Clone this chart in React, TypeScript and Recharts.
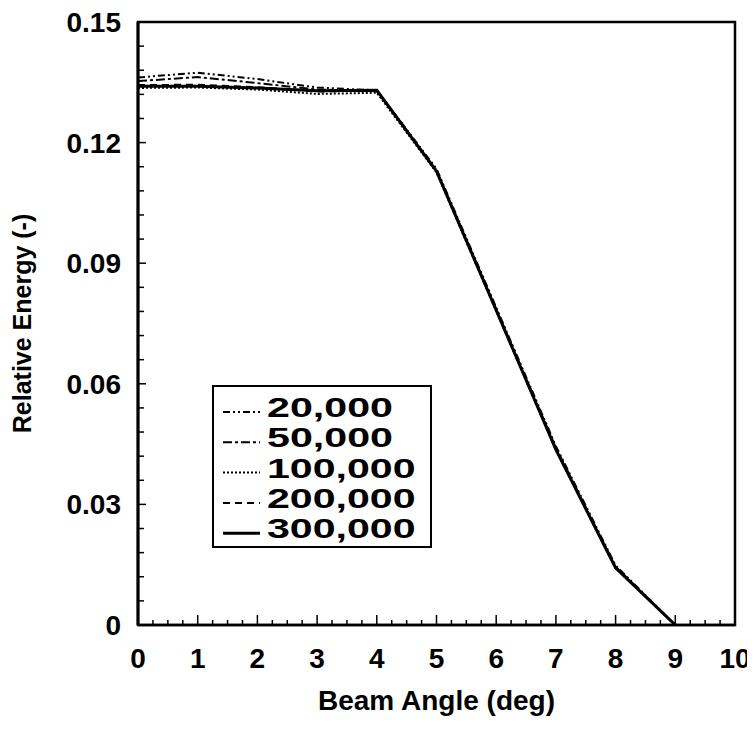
import React from "react";
import { LineChart, Line, XAxis, YAxis, ReferenceArea, Legend, Label } from "recharts";

const angles = [0, 1, 2, 3, 4, 5, 6, 7, 8, 9];
const s20k = [0.1362, 0.1374, 0.1358, 0.1337, 0.133, 0.1135, 0.079, 0.0445, 0.0148, 0];
const s50k = [0.1353, 0.1363, 0.1348, 0.1332, 0.1328, 0.113, 0.0786, 0.0441, 0.0145, 0];
const s100k = [0.1336, 0.1337, 0.1332, 0.1321, 0.1324, 0.1126, 0.0781, 0.0436, 0.0141, 0];
const s200k = [0.1343, 0.1344, 0.1338, 0.1327, 0.133, 0.113, 0.0784, 0.0437, 0.0143, 0];
const s300k = [0.134, 0.134, 0.1336, 0.1329, 0.133, 0.1129, 0.0783, 0.0436, 0.0142, 0];

const seriesNames = ["20,000", "50,000", "100,000", "200,000", "300,000"];
const seriesKeys = ["s20k", "s50k", "s100k", "s200k", "s300k"];
const seriesValues = [s20k, s50k, s100k, s200k, s300k];
const seriesDash = ["7 3 2 3 2 3", "9 3 3 3", "2 2", "7 5", ""];
const seriesWidth = [2, 2, 2, 2, 3];

const xMajorTicks = [0, 1, 2, 3, 4, 5, 6, 7, 8, 9, 10];
const xMajorLabels = ["0", "1", "2", "3", "4", "5", "6", "7", "8", "9", "10"];
const xMinorStep = 0.25;
const yMajorTicks = [0, 0.03, 0.06, 0.09, 0.12, 0.15];
const yMajorLabels = ["0", "0.03", "0.06", "0.09", "0.12", "0.15"];
const yMinorStep = 0.006;

const xTicks: number[] = [];
for (let i = 0; i <= 40; i++) xTicks.push(+(i * xMinorStep).toFixed(4));
const yTicks: number[] = [];
for (let i = 0; i <= 25; i++) yTicks.push(+(i * yMinorStep).toFixed(4));

const data = angles.map((a, i) => {
  const row: Record<string, number> = { x: a };
  seriesKeys.forEach((k, j) => (row[k] = seriesValues[j][i]));
  return row;
});

const FONT = "'Liberation Sans', Arial, sans-serif";

const findMajor = (v: number, majors: number[]) =>
  majors.findIndex((m) => Math.abs(m - v) < 1e-6);

const YTick = (props: any) => {
  const { x, y, payload } = props;
  const idx = findMajor(payload.value, yMajorTicks);
  const major = idx >= 0;
  return (
    <g>
      <line x1={x} x2={x + (major ? 8 : 6)} y1={y} y2={y} stroke="#000" strokeWidth={1.5} />
      {major && (
        <text x={x - 17} y={y + 10} textAnchor="end" fontFamily={FONT} fontWeight="bold" fontSize={28} fill="#000">
          {yMajorLabels[idx]}
        </text>
      )}
    </g>
  );
};

const XTick = (props: any) => {
  const { x, y, payload } = props;
  const idx = findMajor(payload.value, xMajorTicks);
  const major = idx >= 0;
  return (
    <g>
      <line x1={x} x2={x} y1={y} y2={y - (major ? 10 : 5)} stroke="#000" strokeWidth={1.5} />
      {major && (
        <text x={x} y={y + 43} textAnchor="middle" fontFamily={FONT} fontWeight="bold" fontSize={28} fill="#000">
          {xMajorLabels[idx]}
        </text>
      )}
    </g>
  );
};

const LegendBox = () => (
  <div style={{ width: 220, height: 163, border: "2px solid #000", background: "#fff", boxSizing: "border-box" }}>
    <svg width={216} height={159}>
      {seriesNames.map((n, i) => {
        const base = 30 + i * 30.3;
        const digits = n.replace(/,/g, "").length;
        return (
          <g key={n}>
            <line x1={9} x2={46} y1={base - 5} y2={base - 5} stroke="#000" strokeWidth={seriesWidth[i]} strokeDasharray={seriesDash[i] || undefined} />
            <text x={53} y={base} fontFamily={FONT} fontWeight="bold" fontSize={27} fill="#000" textLength={digits * 22.6 + 13} lengthAdjust="spacingAndGlyphs">
              {n}
            </text>
          </g>
        );
      })}
    </svg>
  </div>
);

export default function App() {
  return (
    <LineChart width={747} height={721} data={data} margin={{ top: 14, right: 20, left: 0, bottom: 0 }}>
      <XAxis
        dataKey="x"
        type="number"
        domain={[0, 10]}
        ticks={xTicks}
        interval={0}
        tickLine={false}
        tickSize={0}
        tickMargin={0}
        height={104}
        axisLine={{ stroke: "#000", strokeWidth: 2.5 }}
        tick={<XTick />}
      >
        <Label
          content={(p: any) => (
            <text x={p.viewBox.x + p.viewBox.width / 2} y={p.viewBox.y + 85} textAnchor="middle" fontFamily={FONT} fontWeight="bold" fontSize={28} fill="#000">
              Beam Angle (deg)
            </text>
          )}
        />
      </XAxis>
      <YAxis
        type="number"
        domain={[0, 0.15]}
        ticks={yTicks}
        interval={0}
        tickLine={false}
        tickSize={0}
        tickMargin={0}
        width={130}
        allowDataOverflow
        axisLine={{ stroke: "#000", strokeWidth: 3 }}
        tick={<YTick />}
      >
        <Label
          content={(p: any) => {
            const cx = p.viewBox.x + 14;
            const cy = p.viewBox.y + p.viewBox.height / 2;
            return (
              <text x={cx} y={cy} transform={`rotate(-90 ${cx} ${cy})`} textAnchor="middle" dominantBaseline="central" fontFamily={FONT} fontWeight="bold" fontSize={25} fill="#000">
                Relative Energy (-)
              </text>
            );
          }}
        />
      </YAxis>
      <ReferenceArea x1={0} x2={10} y1={0} y2={0.15} fill="none" stroke="#000" strokeWidth={2.5} ifOverflow="visible" />
      {seriesKeys.map((k, i) => (
        <Line
          key={k}
          dataKey={k}
          name={seriesNames[i]}
          type="linear"
          stroke="#000"
          strokeWidth={seriesWidth[i]}
          strokeDasharray={seriesDash[i] || undefined}
          dot={false}
          activeDot={false}
          isAnimationActive={false}
        />
      ))}
      <Legend
        layout="horizontal"
        verticalAlign="middle"
        align="center"
        content={() => <LegendBox />}
        wrapperStyle={{ position: "absolute", left: 204, top: 377, width: 220, height: 163 }}
      />
    </LineChart>
  );
}
